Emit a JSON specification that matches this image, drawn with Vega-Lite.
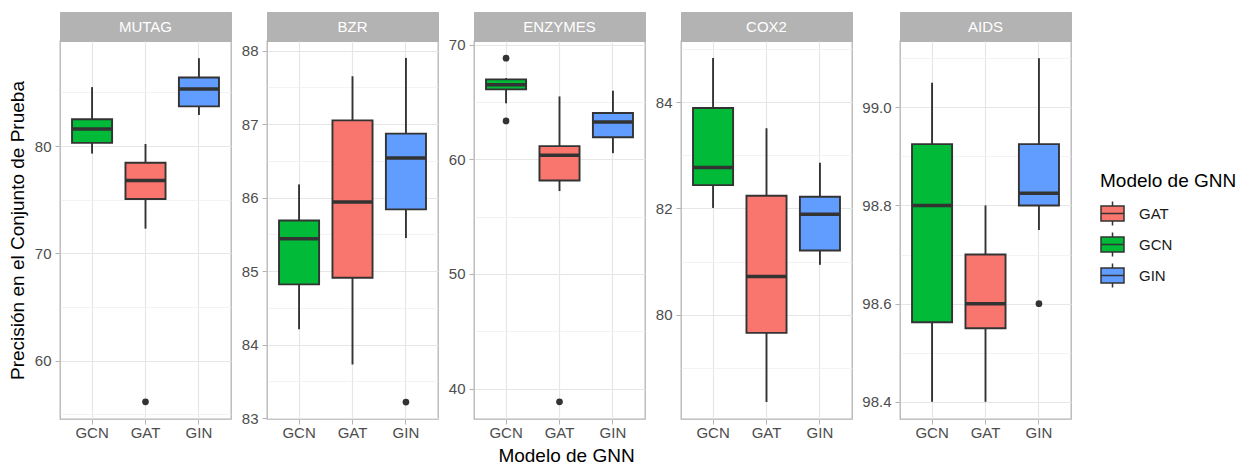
{
  "$schema": "https://vega.github.io/schema/vega-lite/v6.json",
  "padding": {"left": 7, "top": 11, "right": 0, "bottom": 0},
  "background": "white",
  "datasets": {
    "boxes": [
      {"dataset": "MUTAG", "model": "GCN", "lower": 79.3, "q1": 80.3, "median": 81.6, "q3": 82.5, "upper": 85.5},
      {"dataset": "MUTAG", "model": "GAT", "lower": 72.3, "q1": 75.07, "median": 76.8, "q3": 78.45, "upper": 80.2},
      {"dataset": "MUTAG", "model": "GIN", "lower": 82.9, "q1": 83.7, "median": 85.33, "q3": 86.4, "upper": 88.2},
      {"dataset": "BZR", "model": "GCN", "lower": 84.21, "q1": 84.82, "median": 85.44, "q3": 85.69, "upper": 86.18},
      {"dataset": "BZR", "model": "GAT", "lower": 83.73, "q1": 84.91, "median": 85.94, "q3": 87.05, "upper": 87.65},
      {"dataset": "BZR", "model": "GIN", "lower": 85.45, "q1": 85.84, "median": 86.54, "q3": 86.87, "upper": 87.9},
      {"dataset": "ENZYMES", "model": "GCN", "lower": 64.9, "q1": 66.12, "median": 66.52, "q3": 66.99, "upper": 67.1},
      {"dataset": "ENZYMES", "model": "GAT", "lower": 57.24, "q1": 58.16, "median": 60.37, "q3": 61.16, "upper": 65.5},
      {"dataset": "ENZYMES", "model": "GIN", "lower": 60.55, "q1": 61.94, "median": 63.27, "q3": 64.06, "upper": 66.0},
      {"dataset": "COX2", "model": "GCN", "lower": 82.01, "q1": 82.44, "median": 82.77, "q3": 83.89, "upper": 84.83},
      {"dataset": "COX2", "model": "GAT", "lower": 78.36, "q1": 79.66, "median": 80.72, "q3": 82.24, "upper": 83.51},
      {"dataset": "COX2", "model": "GIN", "lower": 80.94, "q1": 81.21, "median": 81.89, "q3": 82.22, "upper": 82.86},
      {"dataset": "AIDS", "model": "GCN", "lower": 98.4, "q1": 98.562, "median": 98.8, "q3": 98.925, "upper": 99.05},
      {"dataset": "AIDS", "model": "GAT", "lower": 98.4, "q1": 98.55, "median": 98.6, "q3": 98.7, "upper": 98.8},
      {"dataset": "AIDS", "model": "GIN", "lower": 98.75, "q1": 98.8, "median": 98.825, "q3": 98.925, "upper": 99.1}
    ],
    "outliers": [
      {"dataset": "MUTAG", "model": "GAT", "value": 56.15},
      {"dataset": "BZR", "model": "GIN", "value": 83.22},
      {"dataset": "ENZYMES", "model": "GCN", "value": 68.84},
      {"dataset": "ENZYMES", "model": "GCN", "value": 63.36},
      {"dataset": "ENZYMES", "model": "GAT", "value": 38.84},
      {"dataset": "AIDS", "model": "GIN", "value": 98.6}
    ]
  },
  "config": {
    "font": "Liberation Sans",
    "view": {"stroke": "#B3B3B3", "strokeWidth": 1.3},
    "axis": {
      "labelFont": "Liberation Sans",
      "labelFontSize": 15,
      "labelColor": "#4D4D4D",
      "labelPadding": 4,
      "tickColor": "#B3B3B3",
      "tickSize": 5,
      "tickWidth": 1,
      "domain": false,
      "gridColor": "#E6E6E6",
      "gridWidth": 1.2,
      "titleFont": "Liberation Sans",
      "titleFontSize": 19,
      "titleFontWeight": "normal",
      "titleColor": "#000000"
    },
    "axisX": {"labelPadding": 1},
    "legend": {
      "titleFont": "Liberation Sans",
      "titleFontSize": 19,
      "titleFontWeight": "normal",
      "titleColor": "#000000",
      "titlePadding": 10,
      "labelFont": "Liberation Sans",
      "labelFontSize": 15,
      "labelColor": "#1A1A1A",
      "labelOffset": 14,
      "symbolType": "M-1,-0.65H1V0.65H-1Z M-1,0H1 M0,-0.65V-1.05 M0,0.65V1.05",
      "symbolSize": 529,
      "symbolStrokeColor": "#333333",
      "symbolStrokeWidth": 1.5,
      "symbolOpacity": 1,
      "rowPadding": 0,
      "padding": 0
    }
  },
  "hconcat": [
    {
      "vconcat": [
        {
          "width": 171, "height": 29,
          "data": {"values": [{"label": "MUTAG"}]},
          "view": {"fill": "#B3B3B3", "stroke": "#B3B3B3"},
          "mark": {"type": "text", "color": "white", "fontSize": 15, "font": "Liberation Sans", "baseline": "middle"},
          "encoding": {"text": {"field": "label"}}
        },
        {
          "width": 171, "height": 378,
          "layer": [
            {
              "data": {"name": "boxes"},
              "transform": [{"filter": "datum.dataset === 'MUTAG'"}],
              "mark": {"type": "rule", "color": "#333333", "strokeWidth": 1.9},
              "encoding": {
                "x": {"field": "model", "type": "nominal", "scale": {"domain": ["GCN", "GAT", "GIN"], "paddingInner": 0, "paddingOuter": 0.1}, "axis": {"bandPosition": 0.5, "labelAngle": 0, "title": null, "grid": true}},
                "y": {"field": "lower", "type": "quantitative", "scale": {"domain": [54.55, 89.8], "nice": false, "zero": false}, "axis": {"orient": "right", "values": [55, 65, 75, 85], "labels": false, "ticks": false, "title": null, "grid": true, "gridColor": "#EEEEEE", "gridWidth": 0.7}},
                "y2": {"field": "upper"}
              }
            },
            {
              "data": {"name": "boxes"},
              "transform": [{"filter": "datum.dataset === 'MUTAG'"}],
              "mark": {"type": "bar", "stroke": "#333333", "strokeWidth": 1.9, "width": {"band": 0.75}},
              "encoding": {
                "x": {"field": "model", "type": "nominal"},
                "y": {"field": "q1", "type": "quantitative", "axis": {"orient": "left", "values": [60, 70, 80], "title": "Precisión en el Conjunto de Prueba", "titlePadding": 7, "grid": true}},
                "y2": {"field": "q3"},
                "fill": {"field": "model", "type": "nominal", "title": "Modelo de GNN", "scale": {"domain": ["GAT", "GCN", "GIN"], "range": ["#F8766D", "#00BA38", "#619CFF"]}, "legend": {"orient": "none", "legendX": 1040, "legendY": 160}}
              }
            },
            {
              "data": {"name": "boxes"},
              "transform": [{"filter": "datum.dataset === 'MUTAG'"}],
              "mark": {"type": "tick", "color": "#333333", "thickness": 3.5, "size": 40, "opacity": 1},
              "encoding": {
                "x": {"field": "model", "type": "nominal"},
                "y": {"field": "median", "type": "quantitative", "axis": null}
              }
            },
            {
              "data": {"name": "outliers"},
              "transform": [{"filter": "datum.dataset === 'MUTAG'"}],
              "mark": {"type": "circle", "color": "#333333", "opacity": 1, "size": 45},
              "encoding": {
                "x": {"field": "model", "type": "nominal"},
                "y": {"field": "value", "type": "quantitative", "axis": null}
              }
            }
          ],
          "resolve": {"axis": {"y": "independent"}}
        }
      ],
      "spacing": 0,
      "bounds": "flush"
    },
    {
      "vconcat": [
        {
          "width": 171, "height": 29,
          "data": {"values": [{"label": "BZR"}]},
          "view": {"fill": "#B3B3B3", "stroke": "#B3B3B3"},
          "mark": {"type": "text", "color": "white", "fontSize": 15, "font": "Liberation Sans", "baseline": "middle"},
          "encoding": {"text": {"field": "label"}}
        },
        {
          "width": 171, "height": 378,
          "layer": [
            {
              "data": {"name": "boxes"},
              "transform": [{"filter": "datum.dataset === 'BZR'"}],
              "mark": {"type": "rule", "color": "#333333", "strokeWidth": 1.9},
              "encoding": {
                "x": {"field": "model", "type": "nominal", "scale": {"domain": ["GCN", "GAT", "GIN"], "paddingInner": 0, "paddingOuter": 0.1}, "axis": {"bandPosition": 0.5, "labelAngle": 0, "title": null, "grid": true}},
                "y": {"field": "lower", "type": "quantitative", "scale": {"domain": [82.99, 88.13], "nice": false, "zero": false}, "axis": {"orient": "right", "values": [83.5, 84.5, 85.5, 86.5, 87.5], "labels": false, "ticks": false, "title": null, "grid": true, "gridColor": "#EEEEEE", "gridWidth": 0.7}},
                "y2": {"field": "upper"}
              }
            },
            {
              "data": {"name": "boxes"},
              "transform": [{"filter": "datum.dataset === 'BZR'"}],
              "mark": {"type": "bar", "stroke": "#333333", "strokeWidth": 1.9, "width": {"band": 0.75}},
              "encoding": {
                "x": {"field": "model", "type": "nominal"},
                "y": {"field": "q1", "type": "quantitative", "axis": {"orient": "left", "values": [83, 84, 85, 86, 87, 88], "title": null, "grid": true}},
                "y2": {"field": "q3"},
                "fill": {"field": "model", "type": "nominal", "title": "Modelo de GNN", "scale": {"domain": ["GAT", "GCN", "GIN"], "range": ["#F8766D", "#00BA38", "#619CFF"]}, "legend": {"orient": "none", "legendX": 1040, "legendY": 160}}
              }
            },
            {
              "data": {"name": "boxes"},
              "transform": [{"filter": "datum.dataset === 'BZR'"}],
              "mark": {"type": "tick", "color": "#333333", "thickness": 3.5, "size": 40, "opacity": 1},
              "encoding": {
                "x": {"field": "model", "type": "nominal"},
                "y": {"field": "median", "type": "quantitative", "axis": null}
              }
            },
            {
              "data": {"name": "outliers"},
              "transform": [{"filter": "datum.dataset === 'BZR'"}],
              "mark": {"type": "circle", "color": "#333333", "opacity": 1, "size": 45},
              "encoding": {
                "x": {"field": "model", "type": "nominal"},
                "y": {"field": "value", "type": "quantitative", "axis": null}
              }
            }
          ],
          "resolve": {"axis": {"y": "independent"}}
        }
      ],
      "spacing": 0,
      "bounds": "flush"
    },
    {
      "vconcat": [
        {
          "width": 171, "height": 29,
          "data": {"values": [{"label": "ENZYMES"}]},
          "view": {"fill": "#B3B3B3", "stroke": "#B3B3B3"},
          "mark": {"type": "text", "color": "white", "fontSize": 15, "font": "Liberation Sans", "baseline": "middle"},
          "encoding": {"text": {"field": "label"}}
        },
        {
          "width": 171, "height": 378,
          "layer": [
            {
              "data": {"name": "boxes"},
              "transform": [{"filter": "datum.dataset === 'ENZYMES'"}],
              "mark": {"type": "rule", "color": "#333333", "strokeWidth": 1.9},
              "encoding": {
                "x": {"field": "model", "type": "nominal", "scale": {"domain": ["GCN", "GAT", "GIN"], "paddingInner": 0, "paddingOuter": 0.1}, "axis": {"bandPosition": 0.5, "labelAngle": 0, "title": "Modelo de GNN", "titleX": 92, "titlePadding": 6, "grid": true}},
                "y": {"field": "lower", "type": "quantitative", "scale": {"domain": [37.34, 70.34], "nice": false, "zero": false}, "axis": {"orient": "right", "values": [45, 55, 65], "labels": false, "ticks": false, "title": null, "grid": true, "gridColor": "#EEEEEE", "gridWidth": 0.7}},
                "y2": {"field": "upper"}
              }
            },
            {
              "data": {"name": "boxes"},
              "transform": [{"filter": "datum.dataset === 'ENZYMES'"}],
              "mark": {"type": "bar", "stroke": "#333333", "strokeWidth": 1.9, "width": {"band": 0.75}},
              "encoding": {
                "x": {"field": "model", "type": "nominal"},
                "y": {"field": "q1", "type": "quantitative", "axis": {"orient": "left", "values": [40, 50, 60, 70], "title": null, "grid": true}},
                "y2": {"field": "q3"},
                "fill": {"field": "model", "type": "nominal", "title": "Modelo de GNN", "scale": {"domain": ["GAT", "GCN", "GIN"], "range": ["#F8766D", "#00BA38", "#619CFF"]}, "legend": {"orient": "none", "legendX": 1040, "legendY": 160}}
              }
            },
            {
              "data": {"name": "boxes"},
              "transform": [{"filter": "datum.dataset === 'ENZYMES'"}],
              "mark": {"type": "tick", "color": "#333333", "thickness": 3.5, "size": 40, "opacity": 1},
              "encoding": {
                "x": {"field": "model", "type": "nominal"},
                "y": {"field": "median", "type": "quantitative", "axis": null}
              }
            },
            {
              "data": {"name": "outliers"},
              "transform": [{"filter": "datum.dataset === 'ENZYMES'"}],
              "mark": {"type": "circle", "color": "#333333", "opacity": 1, "size": 45},
              "encoding": {
                "x": {"field": "model", "type": "nominal"},
                "y": {"field": "value", "type": "quantitative", "axis": null}
              }
            }
          ],
          "resolve": {"axis": {"y": "independent"}}
        }
      ],
      "spacing": 0,
      "bounds": "flush"
    },
    {
      "vconcat": [
        {
          "width": 171, "height": 29,
          "data": {"values": [{"label": "COX2"}]},
          "view": {"fill": "#B3B3B3", "stroke": "#B3B3B3"},
          "mark": {"type": "text", "color": "white", "fontSize": 15, "font": "Liberation Sans", "baseline": "middle"},
          "encoding": {"text": {"field": "label"}}
        },
        {
          "width": 171, "height": 378,
          "layer": [
            {
              "data": {"name": "boxes"},
              "transform": [{"filter": "datum.dataset === 'COX2'"}],
              "mark": {"type": "rule", "color": "#333333", "strokeWidth": 1.9},
              "encoding": {
                "x": {"field": "model", "type": "nominal", "scale": {"domain": ["GCN", "GAT", "GIN"], "paddingInner": 0, "paddingOuter": 0.1}, "axis": {"bandPosition": 0.5, "labelAngle": 0, "title": null, "grid": true}},
                "y": {"field": "lower", "type": "quantitative", "scale": {"domain": [78.04, 85.15], "nice": false, "zero": false}, "axis": {"orient": "right", "values": [79, 81, 83, 85], "labels": false, "ticks": false, "title": null, "grid": true, "gridColor": "#EEEEEE", "gridWidth": 0.7}},
                "y2": {"field": "upper"}
              }
            },
            {
              "data": {"name": "boxes"},
              "transform": [{"filter": "datum.dataset === 'COX2'"}],
              "mark": {"type": "bar", "stroke": "#333333", "strokeWidth": 1.9, "width": {"band": 0.75}},
              "encoding": {
                "x": {"field": "model", "type": "nominal"},
                "y": {"field": "q1", "type": "quantitative", "axis": {"orient": "left", "values": [80, 82, 84], "title": null, "grid": true}},
                "y2": {"field": "q3"},
                "fill": {"field": "model", "type": "nominal", "title": "Modelo de GNN", "scale": {"domain": ["GAT", "GCN", "GIN"], "range": ["#F8766D", "#00BA38", "#619CFF"]}, "legend": {"orient": "none", "legendX": 1040, "legendY": 160}}
              }
            },
            {
              "data": {"name": "boxes"},
              "transform": [{"filter": "datum.dataset === 'COX2'"}],
              "mark": {"type": "tick", "color": "#333333", "thickness": 3.5, "size": 40, "opacity": 1},
              "encoding": {
                "x": {"field": "model", "type": "nominal"},
                "y": {"field": "median", "type": "quantitative", "axis": null}
              }
            },
            {
              "data": {"name": "outliers"},
              "transform": [{"filter": "datum.dataset === 'COX2'"}],
              "mark": {"type": "circle", "color": "#333333", "opacity": 1, "size": 45},
              "encoding": {
                "x": {"field": "model", "type": "nominal"},
                "y": {"field": "value", "type": "quantitative", "axis": null}
              }
            }
          ],
          "resolve": {"axis": {"y": "independent"}}
        }
      ],
      "spacing": 0,
      "bounds": "flush"
    },
    {
      "vconcat": [
        {
          "width": 171, "height": 29,
          "data": {"values": [{"label": "AIDS"}]},
          "view": {"fill": "#B3B3B3", "stroke": "#B3B3B3"},
          "mark": {"type": "text", "color": "white", "fontSize": 15, "font": "Liberation Sans", "baseline": "middle"},
          "encoding": {"text": {"field": "label"}}
        },
        {
          "width": 171, "height": 378,
          "layer": [
            {
              "data": {"name": "boxes"},
              "transform": [{"filter": "datum.dataset === 'AIDS'"}],
              "mark": {"type": "rule", "color": "#333333", "strokeWidth": 1.9},
              "encoding": {
                "x": {"field": "model", "type": "nominal", "scale": {"domain": ["GCN", "GAT", "GIN"], "paddingInner": 0, "paddingOuter": 0.1}, "axis": {"bandPosition": 0.5, "labelAngle": 0, "title": null, "grid": true}},
                "y": {"field": "lower", "type": "quantitative", "scale": {"domain": [98.365, 99.135], "nice": false, "zero": false}, "axis": {"orient": "right", "values": [98.5, 98.7, 98.9, 99.1], "labels": false, "ticks": false, "title": null, "grid": true, "gridColor": "#EEEEEE", "gridWidth": 0.7}},
                "y2": {"field": "upper"}
              }
            },
            {
              "data": {"name": "boxes"},
              "transform": [{"filter": "datum.dataset === 'AIDS'"}],
              "mark": {"type": "bar", "stroke": "#333333", "strokeWidth": 1.9, "width": {"band": 0.75}},
              "encoding": {
                "x": {"field": "model", "type": "nominal"},
                "y": {"field": "q1", "type": "quantitative", "axis": {"orient": "left", "values": [98.4, 98.6, 98.8, 99.0], "format": ".1f", "title": null, "grid": true}},
                "y2": {"field": "q3"},
                "fill": {"field": "model", "type": "nominal", "title": "Modelo de GNN", "scale": {"domain": ["GAT", "GCN", "GIN"], "range": ["#F8766D", "#00BA38", "#619CFF"]}, "legend": {"orient": "none", "legendX": 1040, "legendY": 160}}
              }
            },
            {
              "data": {"name": "boxes"},
              "transform": [{"filter": "datum.dataset === 'AIDS'"}],
              "mark": {"type": "tick", "color": "#333333", "thickness": 3.5, "size": 40, "opacity": 1},
              "encoding": {
                "x": {"field": "model", "type": "nominal"},
                "y": {"field": "median", "type": "quantitative", "axis": null}
              }
            },
            {
              "data": {"name": "outliers"},
              "transform": [{"filter": "datum.dataset === 'AIDS'"}],
              "mark": {"type": "circle", "color": "#333333", "opacity": 1, "size": 45},
              "encoding": {
                "x": {"field": "model", "type": "nominal"},
                "y": {"field": "value", "type": "quantitative", "axis": null}
              }
            }
          ],
          "resolve": {"axis": {"y": "independent"}}
        }
      ],
      "spacing": 0,
      "bounds": "flush"
    }
  ],
  "spacing": 8
}
